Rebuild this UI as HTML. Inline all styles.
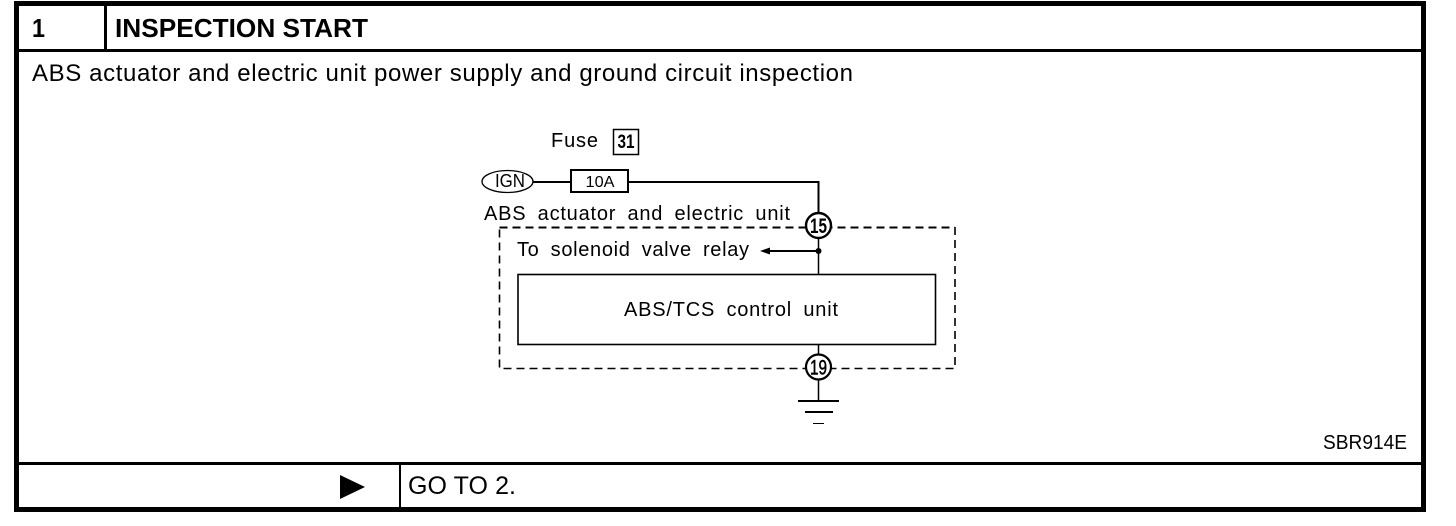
<!DOCTYPE html>
<html><head><meta charset="utf-8">
<style>
html,body{margin:0;padding:0;background:#fff;width:1456px;height:526px;overflow:hidden}
svg{display:block}
text{font-family:"Liberation Sans",sans-serif;fill:#000}
</style></head>
<body>
<svg width="1456" height="526" viewBox="0 0 1456 526" xmlns="http://www.w3.org/2000/svg">
<rect width="1456" height="526" fill="#fff"/>
<g shape-rendering="crispEdges" fill="#000">
<rect x="14" y="1" width="1412" height="5"/>
<rect x="14" y="507" width="1412" height="5"/>
<rect x="14" y="1" width="5" height="511"/>
<rect x="1421" y="1" width="5" height="511"/>
<rect x="14" y="49" width="1412" height="3"/>
<rect x="104" y="1" width="3" height="50"/>
<rect x="14" y="462" width="1412" height="3"/>
<rect x="399" y="462" width="2" height="46"/>
</g>
<text x="32" y="37" font-size="26" font-weight="bold" textLength="13" lengthAdjust="spacingAndGlyphs">1</text>
<text x="115" y="37" font-size="26" font-weight="bold" textLength="253" lengthAdjust="spacingAndGlyphs">INSPECTION START</text>
<text x="32" y="81" font-size="24" textLength="821" lengthAdjust="spacing">ABS actuator and electric unit power supply and ground circuit inspection</text>

<text x="551" y="147" font-size="20" textLength="47" lengthAdjust="spacing">Fuse</text>
<rect x="613.5" y="129.5" width="25" height="25" fill="none" stroke="#000" stroke-width="1.5"/>
<text x="626" y="148" font-size="19" font-weight="bold" text-anchor="middle" textLength="17" lengthAdjust="spacingAndGlyphs">31</text>

<ellipse cx="507.5" cy="181.5" rx="25.5" ry="11" fill="none" stroke="#000" stroke-width="1.3"/>
<text x="510" y="187" font-size="18" text-anchor="middle" textLength="30" lengthAdjust="spacingAndGlyphs">IGN</text>
<path d="M533 182H571M628 182H818.5V212" fill="none" stroke="#000" stroke-width="2"/>
<rect x="571" y="170" width="57" height="22" fill="#fff" stroke="#000" stroke-width="2"/>
<text x="600" y="187" font-size="16" text-anchor="middle" textLength="29" lengthAdjust="spacingAndGlyphs">10A</text>

<text x="484" y="220" font-size="20" textLength="306" lengthAdjust="spacing" style="word-spacing:5px">ABS actuator and electric unit</text>

<path d="M499.5 227.5H955" fill="none" stroke="#000" stroke-width="2" stroke-dasharray="8 5"/>
<path d="M955 227V368.5H499.5V227" fill="none" stroke="#000" stroke-width="1.6" stroke-dasharray="8 5"/>

<text x="517" y="256" font-size="20" textLength="232" lengthAdjust="spacing" style="word-spacing:5px">To solenoid valve relay</text>
<path d="M818.5 238V274" stroke="#000" stroke-width="1.5" fill="none"/>
<path d="M768 251H818" stroke="#000" stroke-width="2" fill="none"/>
<path d="M760 251L770 247.5V254.5Z" fill="#000"/>
<circle cx="818.5" cy="251" r="3" fill="#000"/>

<rect x="518" y="274.5" width="417.5" height="70" fill="#fff" stroke="#000" stroke-width="1.6"/>
<text x="624" y="316" font-size="20" textLength="214" lengthAdjust="spacing" style="word-spacing:5px">ABS/TCS control unit</text>

<circle cx="818.5" cy="225.5" r="12.5" fill="#fff" stroke="#000" stroke-width="2.4"/>
<text x="818.5" y="233" font-size="21" font-weight="bold" text-anchor="middle" textLength="17" lengthAdjust="spacingAndGlyphs">15</text>

<path d="M818.5 345V354M818.5 380V401" stroke="#000" stroke-width="1.5" fill="none"/>
<circle cx="818.5" cy="367" r="12.5" fill="#fff" stroke="#000" stroke-width="2.2"/>
<text x="818.5" y="374.5" font-size="21" stroke="#000" stroke-width="0.5" text-anchor="middle" textLength="17" lengthAdjust="spacingAndGlyphs">19</text>
<g shape-rendering="crispEdges" fill="#000">
<rect x="798" y="400" width="41" height="2"/>
<rect x="805" y="411" width="28" height="2"/>
<rect x="813" y="423" width="11" height="1"/>
</g>

<text x="1407" y="449" font-size="20" text-anchor="end" textLength="84" lengthAdjust="spacingAndGlyphs">SBR914E</text>

<path d="M340 475L365 487L340 499Z" fill="#000"/>
<text x="408" y="494" font-size="25" textLength="108" lengthAdjust="spacing">GO TO 2.</text>
</svg>
</body></html>
